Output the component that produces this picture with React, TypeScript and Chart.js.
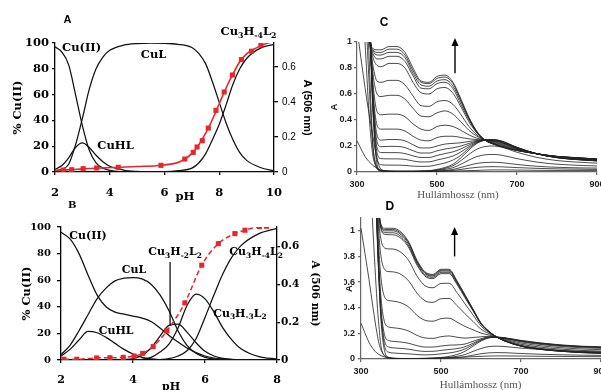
import React, { useEffect, useRef } from "react";
import { Chart, registerables } from "chart.js";

Chart.register(...registerables);

const SERIF = '"DejaVu Serif", serif';
const TIMES = '"Liberation Serif", "Times New Roman", serif';
const SANS = '"Liberation Sans", Arial, Helvetica, sans-serif';

// ---------------- Panel A (species distribution, % Cu(II) + A506) ----------------
const phA = [2, 2.25, 2.5, 2.75, 3, 3.25, 3.5, 3.75, 4, 4.5, 5, 5.5, 6, 6.5, 7, 7.25, 7.5, 7.75, 8, 8.25, 8.5, 8.75, 9, 9.5, 10];
const cuIIA = [97, 93, 83, 60, 36, 17, 7, 3, 1.2, 0.2, 0, 0, 0, 0, 0, 0, 0, 0, 0, 0, 0, 0, 0, 0, 0];
const cuHLA = [2, 5, 11, 19, 22.5, 19, 13, 8, 4.5, 1.5, 0.4, 0.1, 0, 0, 0, 0, 0, 0, 0, 0, 0, 0, 0, 0, 0];
const cuLA = [1, 2, 6, 21, 41.5, 64, 80, 89, 94.3, 98.3, 99.6, 99.9, 99.8, 99, 96.5, 92, 84, 70, 54, 38, 25, 15, 9, 3.5, 1];
const cu3H4A = [0, 0, 0, 0, 0, 0, 0, 0, 0, 0, 0, 0.1, 0.2, 1, 3, 7, 14, 25, 37, 52, 68, 80, 88, 96, 99];
const fitPhA = [2, 2.3, 2.6, 3, 3.5, 4.3, 5, 5.9, 6.5, 6.75, 7, 7.25, 7.5, 7.75, 8, 8.25, 8.5, 8.75, 9, 9.25, 9.5, 9.75, 10];
const fitAbsA = [0.008, 0.011, 0.013, 0.018, 0.022, 0.027, 0.031, 0.039, 0.055, 0.075, 0.105, 0.155, 0.22, 0.3, 0.39, 0.48, 0.56, 0.63, 0.675, 0.7, 0.72, 0.735, 0.745];
const mkPhA = [2.3, 2.61, 3.03, 3.52, 4.31, 5.87, 6.74, 7.05, 7.19, 7.38, 7.6, 7.88, 8.18, 8.48, 8.81, 9.18, 9.52];
const mkAbsA = [0.011, 0.013, 0.019, 0.023, 0.027, 0.038, 0.074, 0.112, 0.143, 0.179, 0.251, 0.352, 0.457, 0.554, 0.642, 0.69, 0.726];
const pctTicks = [0, 100, 20];

// ---------------- Panel B ----------------
const phB = [2, 2.25, 2.5, 2.75, 3, 3.25, 3.5, 3.75, 4, 4.25, 4.5, 4.75, 5, 5.25, 5.5, 5.75, 6, 6.25, 6.5, 6.75, 7, 7.5, 8];
const cuIIB = [96, 91, 80, 64, 49, 40, 36, 34.5, 33, 31.5, 29, 24, 18.5, 13.5, 9, 5.5, 3, 1.5, 0.7, 0.3, 0.1, 0, 0];
const cuLB = [4, 11, 22, 34, 46, 54, 59.5, 61.5, 62, 61, 57, 49, 37, 22, 11, 5, 2, 0.8, 0.3, 0.1, 0, 0, 0];
const cuHLB = [3, 8, 15, 21.5, 20.5, 17, 12.5, 8, 4.5, 2, 0.8, 0.3, 0.1, 0, 0, 0, 0, 0, 0, 0, 0, 0, 0];
const cu3H2B = [0, 0, 0, 0, 0, 0, 0, 0.3, 1, 3.5, 9, 18, 26, 27, 21, 13, 6.5, 3, 1.2, 0.5, 0.2, 0, 0];
const cu3H3B = [0, 0, 0, 0, 0, 0, 0, 0, 0, 0.5, 2, 6, 12, 24, 41, 49.5, 46, 36, 24, 15, 8.5, 2.5, 0.7];
const cu3H4B = [0, 0, 0, 0, 0, 0, 0, 0, 0, 0, 0, 0.3, 1, 3, 7, 16, 32, 49, 65, 77.5, 86, 95, 99];
const mkPhB = [2.08, 2.44, 2.99, 3.36, 3.73, 4.03, 4.27, 4.56, 4.94, 5.44, 5.91, 6.37, 6.83, 7.11, 7.51, 7.71];
const mkAbsB = [0.004, 0.004, 0.011, 0.012, 0.014, 0.021, 0.035, 0.071, 0.154, 0.302, 0.502, 0.616, 0.669, 0.687, 0.706, 0.708];

// ---------------- Panel C (spectra) ----------------
const wlC = [300, 320, 330, 335, 340, 350, 360, 380, 400, 420, 440, 460, 480, 500, 520, 540, 560, 580, 600, 620, 640, 660, 700, 750, 800, 850, 900];
const specC01 = [2, 2, 1.15, 0.98, 0.95, 0.94, 0.94, 0.965, 0.965, 0.92, 0.8, 0.7, 0.69, 0.735, 0.745, 0.69, 0.56, 0.42, 0.31, 0.245, 0.215, 0.195, 0.165, 0.14, 0.12, 0.11, 0.1];
const specC02 = [2, 2, 1.15, 0.977, 0.94, 0.92, 0.92, 0.945, 0.945, 0.9, 0.78, 0.69, 0.68, 0.72, 0.73, 0.68, 0.55, 0.415, 0.31, 0.245, 0.216, 0.196, 0.166, 0.14, 0.12, 0.11, 0.1];
const specC03 = [2, 2, 1.15, 0.974, 0.93, 0.9, 0.9, 0.92, 0.92, 0.88, 0.76, 0.67, 0.66, 0.7, 0.71, 0.66, 0.54, 0.41, 0.305, 0.245, 0.217, 0.197, 0.166, 0.14, 0.12, 0.109, 0.099];
const specC04 = [2, 2, 1.15, 0.97, 0.91, 0.87, 0.87, 0.89, 0.89, 0.85, 0.74, 0.645, 0.64, 0.68, 0.69, 0.64, 0.52, 0.4, 0.3, 0.245, 0.218, 0.199, 0.167, 0.14, 0.119, 0.109, 0.099];
const specC05 = [2, 2, 1.15, 0.962, 0.88, 0.82, 0.81, 0.835, 0.835, 0.8, 0.69, 0.61, 0.6, 0.64, 0.65, 0.605, 0.5, 0.385, 0.3, 0.245, 0.22, 0.201, 0.168, 0.14, 0.119, 0.108, 0.098];
const specC06 = [2, 2, 1.15, 0.945, 0.815, 0.7, 0.69, 0.705, 0.705, 0.67, 0.585, 0.51, 0.505, 0.54, 0.55, 0.52, 0.44, 0.35, 0.285, 0.245, 0.224, 0.207, 0.172, 0.14, 0.117, 0.106, 0.096];
const specC07 = [2, 2, 1.15, 0.93, 0.755, 0.6, 0.58, 0.59, 0.59, 0.56, 0.49, 0.43, 0.425, 0.455, 0.47, 0.445, 0.385, 0.32, 0.275, 0.245, 0.229, 0.213, 0.175, 0.14, 0.116, 0.104, 0.094];
const specC08 = [2, 2, 1.15, 0.91, 0.68, 0.465, 0.44, 0.445, 0.445, 0.425, 0.37, 0.33, 0.32, 0.35, 0.36, 0.35, 0.32, 0.285, 0.26, 0.245, 0.234, 0.219, 0.18, 0.14, 0.115, 0.102, 0.092];
const specC09 = [2, 2, 1.15, 0.894, 0.62, 0.36, 0.33, 0.33, 0.33, 0.315, 0.275, 0.245, 0.24, 0.265, 0.275, 0.275, 0.265, 0.255, 0.25, 0.245, 0.238, 0.225, 0.182, 0.14, 0.113, 0.1, 0.09];
const specC10 = [2, 2, 1.15, 0.883, 0.58, 0.285, 0.245, 0.25, 0.25, 0.24, 0.21, 0.185, 0.185, 0.2, 0.215, 0.22, 0.225, 0.235, 0.243, 0.245, 0.241, 0.229, 0.184, 0.14, 0.113, 0.099, 0.089];
const specC11 = [2, 2, 1.15, 0.876, 0.55, 0.235, 0.195, 0.197, 0.197, 0.188, 0.164, 0.146, 0.146, 0.163, 0.177, 0.186, 0.2, 0.22, 0.238, 0.245, 0.243, 0.231, 0.185, 0.14, 0.112, 0.098, 0.088];
const specC12 = [2, 2, 1.15, 0.87, 0.525, 0.19, 0.15, 0.149, 0.149, 0.142, 0.124, 0.112, 0.112, 0.127, 0.142, 0.155, 0.178, 0.208, 0.234, 0.245, 0.245, 0.233, 0.186, 0.14, 0.112, 0.097, 0.087];
const specC13 = [2, 2, 1.15, 0.863, 0.5, 0.148, 0.103, 0.101, 0.101, 0.097, 0.085, 0.077, 0.078, 0.092, 0.106, 0.123, 0.155, 0.195, 0.229, 0.245, 0.246, 0.236, 0.188, 0.14, 0.111, 0.096, 0.086];
const specC14 = [2, 2, 1.15, 0.857, 0.475, 0.104, 0.056, 0.053, 0.053, 0.051, 0.045, 0.043, 0.044, 0.056, 0.07, 0.092, 0.13, 0.183, 0.225, 0.245, 0.248, 0.238, 0.189, 0.14, 0.11, 0.096, 0.086];
const specC15 = [2, 2, 1.15, 0.85, 0.45, 0.06, 0.01, 0.005, 0.005, 0.005, 0.005, 0.008, 0.01, 0.02, 0.035, 0.06, 0.11, 0.17, 0.22, 0.245, 0.25, 0.24, 0.19, 0.14, 0.11, 0.095, 0.085];
const specC16 = [2, 1.5, 0.9, 0.5, 0.2, 0.04, 0.01, 0.005, 0.005, 0.005, 0.005, 0.007, 0.01, 0.016, 0.028, 0.048, 0.088, 0.136, 0.176, 0.196, 0.2, 0.192, 0.152, 0.112, 0.088, 0.076, 0.068];
const specC17 = [2, 1.3, 0.7, 0.4, 0.18, 0.03, 0.01, 0.005, 0.005, 0.005, 0.005, 0.005, 0.006, 0.012, 0.02, 0.033, 0.06, 0.092, 0.119, 0.132, 0.135, 0.13, 0.103, 0.076, 0.06, 0.052, 0.046];
const specC18 = [2, 1.0, 0.45, 0.25, 0.12, 0.025, 0.008, 0.005, 0.005, 0.005, 0.005, 0.005, 0.006, 0.008, 0.012, 0.02, 0.035, 0.052, 0.066, 0.073, 0.075, 0.072, 0.058, 0.044, 0.036, 0.032, 0.03];
const specC19 = [1.1, 0.65, 0.45, 0.36, 0.27, 0.1, 0.02, 0.006, 0.005, 0.005, 0.005, 0.005, 0.005, 0.006, 0.008, 0.012, 0.02, 0.029, 0.036, 0.04, 0.041, 0.04, 0.034, 0.028, 0.024, 0.022, 0.02];
const specC20 = [0.24, 0.12, 0.08, 0.065, 0.05, 0.03, 0.015, 0.008, 0.005, 0.005, 0.005, 0.005, 0.005, 0.005, 0.006, 0.007, 0.009, 0.011, 0.012, 0.015, 0.016, 0.016, 0.015, 0.013, 0.012, 0.012, 0.012];
const specCList = [specC01, specC02, specC03, specC04, specC05, specC06, specC07, specC08, specC09, specC10, specC11, specC12, specC13, specC14, specC15, specC16, specC17, specC18, specC19, specC20];

// ---------------- Panel D (spectra) ----------------
const wlD = [300, 320, 330, 340, 345, 350, 360, 370, 380, 400, 420, 440, 460, 480, 500, 520, 540, 560, 580, 600, 620, 640, 660, 700, 750, 800, 850, 900];
const specD01 = [2, 2, 2, 1.4, 1.15, 1.05, 1.02, 1.02, 1.02, 0.99, 0.91, 0.77, 0.68, 0.66, 0.7, 0.7, 0.61, 0.5, 0.39, 0.28, 0.215, 0.17, 0.14, 0.1, 0.075, 0.06, 0.05, 0.045];
const specD02 = [2, 2, 2, 1.396, 1.145, 1.043, 1.01, 1.01, 1.01, 0.98, 0.901, 0.762, 0.673, 0.653, 0.693, 0.693, 0.604, 0.496, 0.387, 0.279, 0.215, 0.17, 0.14, 0.1, 0.075, 0.06, 0.05, 0.045];
const specD03 = [2, 2, 2, 1.392, 1.139, 1.035, 1.0, 1.0, 1.0, 0.97, 0.892, 0.755, 0.667, 0.647, 0.686, 0.686, 0.599, 0.491, 0.384, 0.277, 0.214, 0.17, 0.14, 0.101, 0.076, 0.061, 0.051, 0.046];
const specD04 = [2, 2, 2, 1.386, 1.131, 1.024, 0.986, 0.985, 0.985, 0.955, 0.878, 0.743, 0.656, 0.637, 0.676, 0.676, 0.59, 0.485, 0.38, 0.275, 0.213, 0.17, 0.141, 0.102, 0.077, 0.062, 0.052, 0.047];
const specD05 = [2, 2, 2, 1.38, 1.123, 1.013, 0.972, 0.97, 0.969, 0.941, 0.865, 0.732, 0.646, 0.627, 0.666, 0.666, 0.581, 0.478, 0.376, 0.273, 0.213, 0.17, 0.141, 0.102, 0.078, 0.063, 0.053, 0.048];
const specD06 = [2, 2, 2, 1.336, 1.062, 0.93, 0.865, 0.859, 0.858, 0.832, 0.765, 0.647, 0.572, 0.556, 0.59, 0.591, 0.518, 0.43, 0.344, 0.258, 0.207, 0.17, 0.144, 0.107, 0.083, 0.068, 0.058, 0.053];
const specD07 = [2, 2, 2, 1.266, 0.966, 0.799, 0.695, 0.682, 0.68, 0.66, 0.606, 0.513, 0.454, 0.442, 0.47, 0.472, 0.417, 0.353, 0.293, 0.233, 0.198, 0.17, 0.148, 0.115, 0.092, 0.077, 0.067, 0.062];
const specD08 = [2, 2, 2, 1.176, 0.842, 0.63, 0.477, 0.456, 0.452, 0.438, 0.403, 0.341, 0.302, 0.295, 0.315, 0.319, 0.288, 0.254, 0.228, 0.202, 0.187, 0.17, 0.154, 0.125, 0.103, 0.088, 0.078, 0.073];
const specD09 = [2, 2, 2, 1.094, 0.729, 0.476, 0.278, 0.249, 0.244, 0.236, 0.217, 0.184, 0.164, 0.161, 0.174, 0.18, 0.17, 0.163, 0.168, 0.173, 0.177, 0.17, 0.159, 0.134, 0.113, 0.098, 0.088, 0.083];
const specD10 = [2, 2, 2, 1.052, 0.672, 0.398, 0.176, 0.143, 0.138, 0.132, 0.122, 0.104, 0.093, 0.093, 0.101, 0.108, 0.11, 0.117, 0.138, 0.158, 0.172, 0.17, 0.162, 0.139, 0.118, 0.104, 0.094, 0.089];
const specD11 = [2, 2, 2, 1.032, 0.644, 0.36, 0.128, 0.093, 0.087, 0.083, 0.076, 0.065, 0.059, 0.06, 0.067, 0.074, 0.081, 0.095, 0.123, 0.151, 0.169, 0.17, 0.163, 0.141, 0.121, 0.106, 0.096, 0.091];
const specD12 = [2, 2, 2, 1.016, 0.622, 0.33, 0.089, 0.052, 0.047, 0.043, 0.04, 0.035, 0.032, 0.034, 0.04, 0.047, 0.058, 0.078, 0.112, 0.146, 0.167, 0.17, 0.164, 0.143, 0.123, 0.108, 0.098, 0.093];
const specD13 = [2, 2, 2, 1.0, 0.6, 0.3, 0.05, 0.012, 0.006, 0.004, 0.004, 0.004, 0.005, 0.008, 0.012, 0.02, 0.035, 0.06, 0.1, 0.14, 0.165, 0.17, 0.165, 0.145, 0.125, 0.11, 0.1, 0.095];
const specD14 = [2, 1.6, 1.0, 0.45, 0.25, 0.1, 0.02, 0.007, 0.004, 0.003, 0.003, 0.003, 0.004, 0.005, 0.008, 0.012, 0.021, 0.035, 0.059, 0.082, 0.097, 0.1, 0.097, 0.085, 0.074, 0.065, 0.059, 0.056];
const specD15 = [1.02, 0.62, 0.4, 0.2, 0.12, 0.07, 0.025, 0.01, 0.005, 0.003, 0.003, 0.003, 0.003, 0.004, 0.005, 0.007, 0.011, 0.018, 0.03, 0.041, 0.048, 0.05, 0.049, 0.043, 0.037, 0.033, 0.03, 0.028];
const specD16 = [0.28, 0.13, 0.08, 0.045, 0.035, 0.026, 0.015, 0.009, 0.006, 0.004, 0.004, 0.004, 0.005, 0.006, 0.008, 0.01, 0.012, 0.015, 0.018, 0.021, 0.023, 0.024, 0.024, 0.023, 0.021, 0.02, 0.019, 0.018];
const specDList = [specD01, specD02, specD03, specD04, specD05, specD06, specD07, specD08, specD09, specD10, specD11, specD12, specD13, specD14, specD15, specD16];

// ---------------- helpers ----------------
const pts = (xs: number[], ys: number[]) => xs.map((x, i) => ({ x, y: ys[i] }));

type Note =
  | { k: "t"; x: number; y: number; s: string; size: number; fam: string; w?: string; c?: string }
  | { k: "l"; x: number; y1: number; y2: number }
  | { k: "a"; x: number; y1: number; y2: number };

function drawRich(ctx: CanvasRenderingContext2D, text: string, cx: number, cy: number, size: number, fam: string, w: string, color: string) {
  const parts: { t: string; sub: boolean }[] = [];
  const re = /_\{([^}]*)\}/g;
  let last = 0;
  let m: RegExpExecArray | null;
  while ((m = re.exec(text))) {
    if (m.index > last) parts.push({ t: text.slice(last, m.index), sub: false });
    parts.push({ t: m[1], sub: true });
    last = re.lastIndex;
  }
  if (last < text.length) parts.push({ t: text.slice(last), sub: false });
  const fontOf = (sub: boolean) => `${w} ${sub ? size * 0.68 : size}px ${fam}`;
  let total = 0;
  for (const p of parts) {
    ctx.font = fontOf(p.sub);
    total += ctx.measureText(p.t).width;
  }
  let x = cx - total / 2;
  ctx.textBaseline = "middle";
  ctx.textAlign = "left";
  ctx.fillStyle = color;
  for (const p of parts) {
    ctx.font = fontOf(p.sub);
    ctx.fillText(p.t, x, p.sub ? cy + size * 0.32 : cy);
    x += ctx.measureText(p.t).width;
  }
}

function notesPlugin(id: string, notes: Note[]) {
  return {
    id,
    afterDraw(chart: any) {
      const ctx: CanvasRenderingContext2D = chart.ctx;
      const xs = chart.scales.x;
      const ys = chart.scales.y;
      ctx.save();
      for (const n of notes) {
        if (n.k === "t") {
          drawRich(ctx, n.s, xs.getPixelForValue(n.x), ys.getPixelForValue(n.y), n.size, n.fam, n.w ?? "bold", n.c ?? "#000");
        } else if (n.k === "l") {
          const px = xs.getPixelForValue(n.x);
          ctx.strokeStyle = "#000";
          ctx.lineWidth = 1.2;
          ctx.beginPath();
          ctx.moveTo(px, ys.getPixelForValue(n.y1));
          ctx.lineTo(px, ys.getPixelForValue(n.y2));
          ctx.stroke();
        } else {
          const px = xs.getPixelForValue(n.x);
          const p1 = ys.getPixelForValue(n.y1);
          const p2 = ys.getPixelForValue(n.y2);
          ctx.strokeStyle = "#000";
          ctx.fillStyle = "#000";
          ctx.lineWidth = 1.4;
          ctx.beginPath();
          ctx.moveTo(px, p1);
          ctx.lineTo(px, p2 + 6);
          ctx.stroke();
          ctx.beginPath();
          ctx.moveTo(px, p2);
          ctx.lineTo(px - 3.5, p2 + 8);
          ctx.lineTo(px + 3.5, p2 + 8);
          ctx.closePath();
          ctx.fill();
        }
      }
      ctx.restore();
    },
  };
}

const axisLook = (color: string, width: number, tl: number) => ({
  border: { display: true, color, width },
  grid: { display: true, drawOnChartArea: false, drawTicks: true, tickLength: tl, color, lineWidth: width },
});

const fixW = (w: number) => (s: any) => {
  s.width = w;
  s.paddingTop = 0;
  s.paddingBottom = 0;
};
const fixH = (h: number) => (s: any) => {
  s.height = h;
  s.paddingLeft = 0;
  s.paddingRight = 0;
};

const fmtTick = (v: any) => {
  const n = Number(v);
  return Math.abs(n - Math.round(n)) < 1e-9 ? String(Math.round(n)) : n.toFixed(1);
};

const lineDs = (xs: number[], ys: number[], yAxisID = "y") => ({
  data: pts(xs, ys),
  yAxisID,
  borderColor: "#111",
  borderWidth: 1.25,
  pointRadius: 0,
  fill: false,
  cubicInterpolationMode: "monotone" as const,
});

const specDs = (xs: number[], ys: number[]) => ({
  data: pts(xs, ys),
  borderColor: "rgba(35,35,35,0.9)",
  borderWidth: 0.9,
  pointRadius: 0,
  fill: false,
  cubicInterpolationMode: "monotone" as const,
});

const common = {
  responsive: false,
  animation: false as const,
  devicePixelRatio: 1,
  events: [] as string[],
  plugins: { legend: { display: false }, tooltip: { enabled: false } },
};

const RED = "#e8262a";

function configA(): any {
  const f = { family: SERIF, size: 11.5, weight: "bold" as const };
  return {
    type: "line",
    data: {
      datasets: [
        { data: pts(mkPhA, mkAbsA), yAxisID: "y2", showLine: false, pointStyle: "rect", pointRadius: 3.6, pointBackgroundColor: RED, pointBorderWidth: 0 },
        { data: pts(fitPhA, fitAbsA), yAxisID: "y2", borderColor: RED, borderWidth: 1.6, pointRadius: 0, cubicInterpolationMode: "monotone" },
        lineDs(phA, cuIIA),
        lineDs(phA, cuHLA),
        lineDs(phA, cuLA),
        lineDs(phA, cu3H4A),
      ],
    },
    options: {
      ...common,
      layout: { padding: { left: 11, top: 43, right: 287, bottom: 188 } },
      scales: {
        x: { type: "linear", min: 2, max: 10, afterFit: fixH(30), ticks: { stepSize: 2, font: f, color: "#000", padding: 11 }, ...axisLook("#000", 1.3, 3) },
        y: {
          position: "left", min: pctTicks[0], max: pctTicks[1], afterFit: fixW(44),
          ticks: { stepSize: pctTicks[2], font: f, color: "#000", padding: 3 }, ...axisLook("#000", 1.3, 3),
          title: { display: true, text: "% Cu(II)", font: { family: SERIF, size: 11.5, weight: "bold" }, color: "#000", padding: 0 },
        },
        y2: {
          position: "right", min: 0, max: 0.737, afterFit: fixW(40),
          ticks: { stepSize: 0.2, includeBounds: false, font: { family: SANS, size: 10 }, color: "#000", padding: 4, callback: fmtTick }, ...axisLook("#000", 1.3, 4),
          title: { display: true, text: "A (506 nm)", font: { family: SANS, size: 11, weight: "bold" }, color: "#000", padding: 0 },
        },
      },
    },
    plugins: [
      notesPlugin("notesA", [
        { k: "t", x: 2.97, y: 96, s: "Cu(II)", size: 11.5, fam: SERIF },
        { k: "t", x: 5.6, y: 90.7, s: "CuL", size: 11.5, fam: SERIF },
        { k: "t", x: 4.21, y: 20, s: "CuHL", size: 11.5, fam: SERIF },
        { k: "t", x: 9.07, y: 108.5, s: "Cu_{3}H_{-4}L_{2}", size: 11.5, fam: SERIF },
        { k: "t", x: 2.46, y: 117.8, s: "A", size: 11, fam: SANS },
        { k: "t", x: 6.75, y: -19.4, s: "pH", size: 11.5, fam: SERIF },
      ]),
    ],
  };
}

function configB(): any {
  const f = { family: SERIF, size: 10, weight: "bold" as const };
  return {
    type: "line",
    data: {
      datasets: [
        { data: pts(mkPhB, mkAbsB), yAxisID: "y2", borderColor: RED, borderWidth: 1.5, borderDash: [5, 3], pointStyle: "rect", pointRadius: 3.6, pointBackgroundColor: RED, pointBorderWidth: 0, cubicInterpolationMode: "monotone" },
        lineDs(phB, cuIIB),
        lineDs(phB, cuLB),
        lineDs(phB, cuHLB),
        lineDs(phB, cu3H2B),
        lineDs(phB, cu3H3B),
        lineDs(phB, cu3H4B),
      ],
    },
    options: {
      ...common,
      layout: { padding: { left: 20, top: 227, right: 280, bottom: 5 } },
      scales: {
        x: { type: "linear", min: 2, max: 8, afterFit: fixH(25), ticks: { stepSize: 2, font: { ...f, size: 11 }, color: "#000", padding: 11 }, ...axisLook("#000", 1.3, 3) },
        y: {
          position: "left", min: pctTicks[0], max: pctTicks[1], afterFit: fixW(41),
          ticks: { stepSize: pctTicks[2], font: f, color: "#000", padding: 6 }, ...axisLook("#000", 1.3, 4),
          title: { display: true, text: "% Cu(II)", font: { family: SERIF, size: 11.5, weight: "bold" }, color: "#000", padding: 0 },
        },
        y2: {
          position: "right", min: 0, max: 0.704, afterFit: fixW(44),
          ticks: { stepSize: 0.2, includeBounds: false, font: { family: SERIF, size: 10.5, weight: "bold" }, color: "#000", padding: 1, callback: fmtTick }, ...axisLook("#000", 1.3, 3),
          title: { display: true, text: "A (506 nm)", font: { family: SERIF, size: 10.5, weight: "bold" }, color: "#000", padding: 0 },
        },
      },
    },
    plugins: [
      notesPlugin("notesB", [
        { k: "t", x: 2.75, y: 93, s: "Cu(II)", size: 11, fam: SERIF },
        { k: "t", x: 4.03, y: 67.7, s: "CuL", size: 11, fam: SERIF },
        { k: "t", x: 3.53, y: 21.8, s: "CuHL", size: 11, fam: SERIF },
        { k: "t", x: 5.17, y: 81, s: "Cu_{3}H_{-2}L_{2}", size: 11, fam: SERIF },
        { k: "l", x: 5.03, y1: 73.7, y2: 26 },
        { k: "t", x: 7.42, y: 81, s: "Cu_{3}H_{-4}L_{2}", size: 11, fam: SERIF },
        { k: "t", x: 6.97, y: 34.6, s: "Cu_{3}H_{-3}L_{2}", size: 11, fam: SERIF },
        { k: "t", x: 2.31, y: 116.5, s: "B", size: 10, fam: SERIF },
        { k: "t", x: 5.06, y: -20.3, s: "pH", size: 11, fam: SERIF },
      ]),
    ],
  };
}

function configSpec(wl: number[], list: number[][], ymax: number, pad: any, wl_: number, hx: number, letter: string, letterPos: number[], arrow: number[], titlePos: number[], yTickPad: number): any {
  const tf = { family: SANS, size: 9, weight: "bold" as const };
  return {
    type: "line",
    data: { datasets: list.map((c) => specDs(wl, c)) },
    options: {
      ...common,
      layout: { padding: pad },
      scales: {
        x: { type: "linear", min: 300, max: 900, afterFit: fixH(hx), ticks: { stepSize: 200, font: tf, color: "#222", padding: 4 }, ...axisLook("#666", 1.2, 3) },
        y: {
          position: "left", min: 0, max: ymax, afterFit: fixW(wl_),
          ticks: { stepSize: 0.2, includeBounds: false, font: tf, color: "#222", padding: yTickPad, callback: fmtTick }, ...axisLook("#666", 1.2, 3),
          title: { display: true, text: "A", font: { family: SANS, size: 9.5, weight: "bold" }, color: "#222", padding: 0 },
        },
      },
    },
    plugins: [
      notesPlugin("notes" + letter, [
        { k: "t", x: letterPos[0], y: letterPos[1], s: letter, size: 12, fam: SANS },
        { k: "a", x: arrow[0], y1: arrow[1], y2: arrow[2] },
        { k: "t", x: titlePos[0], y: titlePos[1], s: "Hullámhossz (nm)", size: 11, fam: TIMES, w: "normal", c: "#555" },
      ]),
    ],
  };
}

export default function App() {
  const refA = useRef<HTMLCanvasElement>(null);
  const refB = useRef<HTMLCanvasElement>(null);
  const refC = useRef<HTMLCanvasElement>(null);
  const refD = useRef<HTMLCanvasElement>(null);

  useEffect(() => {
    const charts: Chart[] = [];
    if (refA.current) charts.push(new Chart(refA.current, configA()));
    if (refB.current) charts.push(new Chart(refB.current, configB()));
    if (refC.current)
      charts.push(new Chart(refC.current, configSpec(wlC, specCList, 1, { left: 329, top: 42, right: 4, bottom: 198 }, 28, 20, "C", [367.5, 1.15], [545, 0.76, 1.03], [552.5, -0.177], 2)));
    if (refD.current)
      charts.push(new Chart(refD.current, configSpec(wlD, specDList, 1.1, { left: 344, top: 218, right: 0, bottom: 6 }, 17, 25, "D", [372, 1.19], [534, 0.8, 1.03], [599, -0.203], 3)));
    return () => charts.forEach((c) => c.destroy());
  }, []);

  const cs: React.CSSProperties = { position: "absolute", left: 0, top: 0, width: 601, height: 390 };
  return (
    <div style={{ position: "absolute", left: 0, top: 0, width: 601, height: 390, background: "#fff", overflow: "hidden" }}>
      <canvas ref={refA} width={601} height={390} style={cs} />
      <canvas ref={refB} width={601} height={390} style={cs} />
      <canvas ref={refC} width={601} height={390} style={cs} />
      <canvas ref={refD} width={601} height={390} style={cs} />
    </div>
  );
}
